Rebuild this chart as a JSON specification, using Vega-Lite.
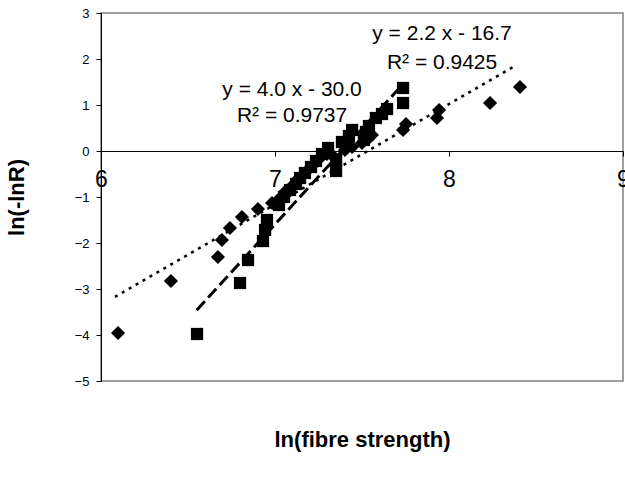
{
  "$schema": "https://vega.github.io/schema/vega-lite/v6.json",
  "width": 522,
  "height": 368,
  "autosize": {"type": "none"},
  "padding": {"left": 101, "top": 13, "right": 2, "bottom": 96},
  "background": "white",
  "config": {"view": {"stroke": "#808080", "strokeWidth": 1.5}},
  "datasets": {
    "diamonds": [
      {"x": 6.098, "y": -3.957}, {"x": 6.402, "y": -2.826}, {"x": 6.672, "y": -2.304},
      {"x": 6.695, "y": -1.935}, {"x": 6.741, "y": -1.674}, {"x": 6.81, "y": -1.435},
      {"x": 6.902, "y": -1.261}, {"x": 6.983, "y": -1.13}, {"x": 7.029, "y": -1.022},
      {"x": 7.057, "y": -0.891}, {"x": 7.098, "y": -0.761}, {"x": 7.126, "y": -0.63},
      {"x": 7.161, "y": -0.522}, {"x": 7.195, "y": -0.391}, {"x": 7.224, "y": -0.283},
      {"x": 7.259, "y": -0.152}, {"x": 7.299, "y": -0.065}, {"x": 7.339, "y": -0.13},
      {"x": 7.402, "y": 0.022}, {"x": 7.443, "y": 0.087}, {"x": 7.5, "y": 0.174},
      {"x": 7.534, "y": 0.261}, {"x": 7.557, "y": 0.348}, {"x": 7.736, "y": 0.457},
      {"x": 7.753, "y": 0.587}, {"x": 7.931, "y": 0.717}, {"x": 7.943, "y": 0.891},
      {"x": 8.236, "y": 1.043}, {"x": 8.408, "y": 1.391}
    ],
    "squares": [
      {"x": 6.552, "y": -3.978}, {"x": 6.799, "y": -2.87}, {"x": 6.845, "y": -2.37},
      {"x": 6.931, "y": -1.957}, {"x": 6.943, "y": -1.717}, {"x": 6.954, "y": -1.5},
      {"x": 7.023, "y": -1.174}, {"x": 7.052, "y": -1.0}, {"x": 7.086, "y": -0.848},
      {"x": 7.121, "y": -0.717}, {"x": 7.144, "y": -0.587}, {"x": 7.172, "y": -0.478},
      {"x": 7.207, "y": -0.348}, {"x": 7.236, "y": -0.217}, {"x": 7.27, "y": -0.065},
      {"x": 7.305, "y": 0.065}, {"x": 7.351, "y": -0.196}, {"x": 7.351, "y": -0.435},
      {"x": 7.385, "y": 0.196}, {"x": 7.425, "y": 0.326}, {"x": 7.443, "y": 0.457},
      {"x": 7.511, "y": 0.239}, {"x": 7.523, "y": 0.413}, {"x": 7.54, "y": 0.543},
      {"x": 7.58, "y": 0.717}, {"x": 7.615, "y": 0.804}, {"x": 7.644, "y": 0.913},
      {"x": 7.736, "y": 1.37}, {"x": 7.736, "y": 1.043}
    ],
    "dotted": [{"x": 6.08, "y": -3.17}, {"x": 8.38, "y": 1.85}],
    "dashed": [{"x": 6.55, "y": -3.46}, {"x": 7.71, "y": 1.35}],
    "labels": [
      {"x": 7.098, "y": 1.33, "text": "y = 4.0 x - 30.0"},
      {"x": 7.098, "y": 0.76, "text": "R² = 0.9737"},
      {"x": 7.96, "y": 2.54, "text": "y = 2.2 x - 16.7"},
      {"x": 7.96, "y": 1.91, "text": "R² = 0.9425"}
    ]
  },
  "layer": [
    {
      "data": {"name": "diamonds"},
      "mark": {"type": "point", "shape": "diamond", "filled": true, "color": "black", "opacity": 1, "size": 200},
      "encoding": {
        "x": {
          "field": "x", "type": "quantitative",
          "scale": {"domain": [6, 9], "nice": false, "zero": false},
          "axis": {
            "orient": "bottom", "offset": -230, "values": [6, 7, 8, 9], "format": "d",
            "title": "ln(fibre strength)", "grid": false,
            "domainColor": "black", "domainWidth": 1, "tickColor": "black", "tickSize": 5,
            "labelFont": "Liberation Sans", "labelFontSize": 23, "labelColor": "black",
            "labelPadding": 12, "labelFlush": false, "labelOverlap": false,
            "titleFont": "Liberation Sans", "titleFontSize": 22, "titleFontWeight": "bold", "titleColor": "black",
            "titleY": 288, "titleBaseline": "middle"
          }
        },
        "y": {
          "field": "y", "type": "quantitative",
          "scale": {"domain": [-5, 3], "nice": false, "zero": false},
          "axis": {
            "values": [-5, -4, -3, -2, -1, 0, 1, 2, 3],
            "title": "ln(-lnR)", "grid": false,
            "domainColor": "black", "domainWidth": 1, "tickColor": "black", "tickSize": 5,
            "labelFont": "Liberation Sans", "labelFontSize": 13, "labelColor": "black", "labelPadding": 7,
            "titleFont": "Liberation Sans", "titleFontSize": 22, "titleFontWeight": "bold", "titleColor": "black",
            "titleX": -85, "titleY": 184, "titleAngle": -90, "titleAlign": "center", "titleBaseline": "middle"
          }
        }
      }
    },
    {
      "data": {"name": "squares"},
      "mark": {"type": "point", "shape": "square", "filled": true, "color": "black", "opacity": 1, "size": 150},
      "encoding": {
        "x": {"field": "x", "type": "quantitative"},
        "y": {"field": "y", "type": "quantitative"}
      }
    },
    {
      "data": {"name": "dotted"},
      "mark": {"type": "line", "color": "black", "strokeWidth": 2.5, "strokeDash": [3, 5]},
      "encoding": {
        "x": {"field": "x", "type": "quantitative"},
        "y": {"field": "y", "type": "quantitative"}
      }
    },
    {
      "data": {"name": "dashed"},
      "mark": {"type": "line", "color": "black", "strokeWidth": 3, "strokeDash": [12, 5]},
      "encoding": {
        "x": {"field": "x", "type": "quantitative"},
        "y": {"field": "y", "type": "quantitative"}
      }
    },
    {
      "data": {"name": "labels"},
      "mark": {"type": "text", "font": "Liberation Sans", "fontSize": 21, "color": "black", "align": "center", "baseline": "middle"},
      "encoding": {
        "x": {"field": "x", "type": "quantitative"},
        "y": {"field": "y", "type": "quantitative"},
        "text": {"field": "text", "type": "nominal"}
      }
    }
  ]
}
